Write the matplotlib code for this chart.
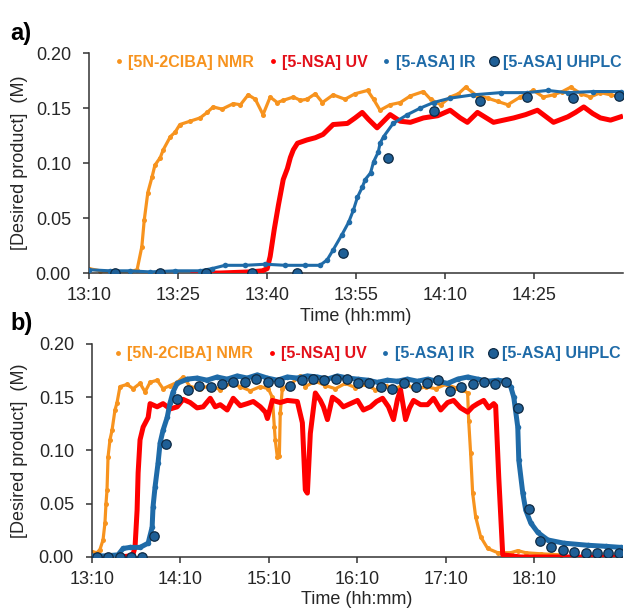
import matplotlib
matplotlib.use("Agg")
import matplotlib.pyplot as plt
from matplotlib.lines import Line2D
from matplotlib.ticker import FuncFormatter, MultipleLocator

plt.rcParams['font.family'] = ['Liberation Sans', 'DejaVu Sans']

# time is in minutes after 13:10
start_min = 13 * 60 + 10

# ---------- panel a) ----------
a_nmr_t = [0, 1.9, 4.4, 6.9, 8.1, 8.9, 9.3, 9.9, 10.6, 11.1, 12.0, 12.5, 13.7, 14.5, 15.3,
           17.0, 18.7, 19.9, 20.9, 22.4, 24.3, 25.5, 26.8, 28.0, 29.3, 30.5, 31.7, 32.7,
           34.4, 35.6, 36.7, 38.1, 39.3, 41.1, 43.1, 44.8, 46.9, 47.9, 49.0, 50.7, 52.4,
           54.1, 56.3, 57.5, 59.2, 60.8, 62.2, 63.4, 65.1, 67.1, 68.8, 70.5, 72.6, 74.8,
           76.5, 78.2, 79.7, 81.1, 82.8, 84.4, 86.1, 87.8, 89.8]
a_nmr_v = [0.004, 0.002, 0.001, 0.001, 0.003, 0.024, 0.048, 0.073, 0.087, 0.098, 0.105,
           0.112, 0.124, 0.128, 0.135, 0.138, 0.141, 0.146, 0.151, 0.149, 0.154, 0.153,
           0.162, 0.158, 0.144, 0.160, 0.155, 0.157, 0.160, 0.157, 0.158, 0.163, 0.155,
           0.162, 0.158, 0.163, 0.166, 0.158, 0.148, 0.153, 0.155, 0.161, 0.165, 0.158,
           0.153, 0.160, 0.163, 0.169, 0.162, 0.159, 0.156, 0.153, 0.160, 0.166, 0.160,
           0.162, 0.165, 0.169, 0.163, 0.160, 0.164, 0.162, 0.160]

a_uv_t = [17.5, 22.1, 27.1, 29.2, 30.0, 30.5, 31.2, 31.9, 32.7, 33.4, 33.9, 34.4, 35.1,
          36.7, 38.1, 39.4, 41.1, 43.5, 44.8, 46.0, 47.0, 48.5, 50.7, 52.4, 54.1, 56.3,
          58.7, 60.8, 62.5, 63.7, 65.4, 68.1, 69.8, 71.5, 73.5, 75.5, 78.2, 80.6, 81.9,
          83.3, 84.8, 86.1, 87.8, 89.5]
a_uv_v = [0.000, 0.000, 0.001, 0.002, 0.004, 0.015, 0.040, 0.062, 0.085, 0.095, 0.105,
          0.112, 0.118, 0.121, 0.123, 0.126, 0.135, 0.136, 0.141, 0.146, 0.140, 0.132,
          0.144, 0.138, 0.137, 0.141, 0.143, 0.148, 0.141, 0.137, 0.146, 0.137, 0.139,
          0.141, 0.144, 0.148, 0.137, 0.142, 0.146, 0.151, 0.145, 0.141, 0.139, 0.142]

a_ir_t = [0, 3.5, 6.9, 10.3, 14.5, 18.7, 20.7, 22.9, 26.3, 29.7, 33.0, 36.4, 38.9, 40.1,
          41.1, 42.6, 43.7, 44.5, 45.2, 46.0, 46.5, 47.4, 47.9, 48.7, 49.0, 49.6, 51.2,
          53.6, 55.8, 58.0, 60.8, 64.7, 69.3, 73.8, 77.2, 80.6, 84.9, 89.5]
a_ir_v = [0.003, 0.002, 0.002, 0.001, 0.002, 0.002, 0.004, 0.007, 0.007, 0.008, 0.007,
          0.007, 0.007, 0.012, 0.021, 0.035, 0.046, 0.057, 0.069, 0.078, 0.085, 0.091,
          0.101, 0.110, 0.118, 0.124, 0.136, 0.144, 0.150, 0.155, 0.159, 0.162, 0.164,
          0.164, 0.166, 0.164, 0.165, 0.165]

a_hplc_t = [4.4, 12.0, 19.7, 27.5, 35.1, 42.8, 50.4, 58.1, 65.9, 73.7, 81.4, 89.2]
a_hplc_v = [0.0, 0.0, 0.0, 0.0, 0.0, 0.018, 0.105, 0.147, 0.156, 0.160, 0.159, 0.161]

# ---------- panel b) ----------
b_nmr_t = [0, 3.4, 5.4, 7.5, 8.8, 9.5, 10.2, 10.9, 12.2, 13.6, 15.6, 17.0, 19.0, 23.8,
           27.9, 32.6, 36.0, 39.4, 44.2, 48.2, 53.0, 57.8, 61.8, 66.6, 73.4, 80.2, 87.0,
           93.8, 100.6, 107.4, 114.2, 119.6, 122.3, 123.7, 124.3, 125.7, 127.1, 127.7,
           129.1, 134.5, 141.3, 144.7, 151.5, 158.3, 165.1, 171.9, 178.7, 185.5, 192.3,
           199.1, 205.9, 212.7, 219.5, 226.3, 233.1, 239.9, 246.7, 251.4, 254.8, 255.5,
           256.8, 258.2, 260.2, 263.6, 268.4, 275.2, 284.0, 288.8, 294.2, 304.4, 318.0]
b_nmr_v = [0.005, 0.004, 0.007, 0.016, 0.032, 0.050, 0.063, 0.094, 0.110, 0.119, 0.138,
           0.145, 0.160, 0.162, 0.158, 0.163, 0.155, 0.164, 0.166, 0.158, 0.161, 0.164,
           0.169, 0.160, 0.158, 0.161, 0.157, 0.163, 0.160, 0.156, 0.160, 0.158, 0.150,
           0.122, 0.110, 0.094, 0.095, 0.135, 0.158, 0.162, 0.170, 0.160, 0.165, 0.161,
           0.158, 0.163, 0.159, 0.162, 0.157, 0.161, 0.158, 0.163, 0.157, 0.160, 0.158,
           0.162, 0.159, 0.157, 0.154, 0.128, 0.098, 0.060, 0.038, 0.019, 0.008, 0.004,
           0.004, 0.006, 0.004, 0.003, 0.002]

b_uv_t = [10.9, 19.0, 25.8, 27.9, 29.2, 30.6, 31.3, 32.6, 34.7, 38.1, 39.4, 44.2, 48.2,
          53.0, 57.8, 61.8, 66.6, 71.3, 75.4, 80.2, 83.6, 87.0, 91.7, 95.8, 100.6, 105.3,
          109.4, 114.2, 117.6, 119.0, 122.3, 127.7, 132.5, 139.3, 142.7, 144.7, 146.1,
          148.1, 151.5, 154.9, 157.0, 159.7, 163.1, 167.2, 170.5, 175.3, 180.1, 184.1,
          188.9, 193.0, 197.1, 201.1, 204.5, 207.2, 209.3, 212.7, 215.4, 218.1, 222.9,
          227.6, 231.7, 236.5, 241.2, 245.3, 250.0, 254.8, 258.2, 261.6, 265.7, 269.1,
          272.5, 273.8, 275.9, 278.6, 290.8, 318.0, 360.0]
b_uv_v = [0.000, 0.000, 0.001, 0.003, 0.009, 0.044, 0.079, 0.110, 0.122, 0.131, 0.144,
          0.141, 0.144, 0.139, 0.141, 0.148, 0.145, 0.140, 0.141, 0.149, 0.141, 0.143,
          0.138, 0.149, 0.142, 0.144, 0.146, 0.141, 0.136, 0.130, 0.147, 0.145, 0.147,
          0.146, 0.126, 0.063, 0.060, 0.116, 0.154, 0.147, 0.141, 0.129, 0.150, 0.146,
          0.141, 0.144, 0.147, 0.138, 0.141, 0.146, 0.149, 0.141, 0.129, 0.148, 0.157,
          0.129, 0.140, 0.147, 0.143, 0.143, 0.149, 0.138, 0.145, 0.147, 0.140, 0.136,
          0.141, 0.144, 0.147, 0.140, 0.144, 0.142, 0.075, 0.002, 0.000, 0.000, 0.000]

b_ir_t = [0, 8.8, 17.7, 21.1, 25.8, 32.6, 38.1, 40.8, 41.4, 42.8, 44.8, 46.2, 48.2, 51.0,
          53.0, 55.0, 57.8, 64.6, 71.3, 78.1, 84.9, 91.7, 98.5, 105.3, 112.1, 118.9,
          125.7, 132.5, 139.3, 146.1, 152.9, 159.7, 166.5, 173.3, 180.1, 186.9, 193.7,
          200.4, 207.2, 214.0, 220.8, 227.6, 234.4, 241.2, 248.0, 254.8, 261.6, 268.4,
          275.2, 280.6, 284.0, 286.1, 288.8, 289.5, 292.2, 294.2, 297.6, 302.4, 309.2,
          320.0, 336.3, 348.6, 358.8]
b_ir_v = [0.001, 0.001, 0.002, 0.008, 0.009, 0.009, 0.013, 0.028, 0.047, 0.066, 0.088,
          0.107, 0.119, 0.131, 0.145, 0.155, 0.163, 0.167, 0.168, 0.166, 0.169, 0.167,
          0.170, 0.168, 0.171, 0.168, 0.166, 0.169, 0.168, 0.170, 0.169, 0.167, 0.170,
          0.168, 0.167, 0.166, 0.164, 0.166, 0.165, 0.167, 0.165, 0.167, 0.165, 0.163,
          0.167, 0.169, 0.167, 0.165, 0.166, 0.165, 0.160, 0.150, 0.122, 0.091, 0.060,
          0.044, 0.032, 0.023, 0.016, 0.013, 0.011, 0.010, 0.009]

b_hplc_t = [3.4, 10.9, 19.0, 26.5, 34.0, 42.1, 50.3, 57.8, 65.2, 72.7, 80.9, 88.3, 95.8,
            103.9, 111.4, 119.6, 127.1, 134.5, 142.7, 150.2, 157.6, 165.8, 173.3, 180.7,
            188.2, 195.7, 203.8, 211.3, 219.5, 226.9, 234.4, 242.6, 250.0, 258.2, 265.7,
            273.2, 280.6, 288.8, 296.3, 303.7, 311.2, 319.4, 326.8, 335.0, 342.5, 349.9,
            357.4]
b_hplc_v = [0.0, 0.0, 0.0, 0.0, 0.0, 0.020, 0.106, 0.148, 0.157, 0.161, 0.160, 0.162,
            0.164, 0.164, 0.167, 0.164, 0.164, 0.161, 0.166, 0.167, 0.166, 0.167, 0.167,
            0.163, 0.163, 0.160, 0.158, 0.163, 0.160, 0.163, 0.166, 0.156, 0.160, 0.162,
            0.164, 0.162, 0.164, 0.140, 0.045, 0.015, 0.009, 0.007, 0.005, 0.004, 0.004,
            0.004, 0.004]

labels = ['[5N-2ClBA] NMR', '[5-NSA] UV', '[5-ASA] IR', '[5-ASA] UHPLC']
c_nmr = '#F7931E'
c_uv = '#FF0000'
c_ir = '#1F6BA8'
c_hplc = '#1F5F96'
c_txt_uv = '#E3101A'
c_txt = '#262626'


def hhmm(x, pos):
    t = int(round(start_min + x))
    return '%d:%02d' % (t // 60, t % 60)


def draw(ax, nmr_t, nmr_v, uv_t, uv_v, ir_t, ir_v, hp_t, hp_v, xmax, step, lw_ir):
    ax.plot(nmr_t, nmr_v, color=c_nmr, lw=2.3, marker='o', ms=3.6, mew=0, zorder=2)
    ax.plot(uv_t, uv_v, color=c_uv, lw=3.6, zorder=3, solid_joinstyle='round')
    ax.plot(ir_t, ir_v, color=c_ir, lw=lw_ir, marker='o', ms=4, mew=0, zorder=4)
    ax.plot(hp_t, hp_v, ls='none', marker='o', ms=6.8, mfc=c_hplc, mec='#0E2A44',
            mew=0.9, zorder=5)
    ax.set_xlim(0, xmax)
    ax.set_ylim(0, 0.2)
    ax.xaxis.set_major_locator(MultipleLocator(step))
    ax.xaxis.set_major_formatter(FuncFormatter(hhmm))
    ax.yaxis.set_major_locator(MultipleLocator(0.05))
    ax.yaxis.set_major_formatter(FuncFormatter(lambda v, p: '%.2f' % v))
    for s in ['top', 'right']:
        ax.spines[s].set_visible(False)
    for s in ['left', 'bottom']:
        ax.spines[s].set_color('#333333')
        ax.spines[s].set_linewidth(1.1)
    ax.tick_params(axis='x', direction='out', length=4, width=1.1, color='#333333',
                   labelsize=13, labelcolor=c_txt, pad=6)
    ax.tick_params(axis='y', direction='out', length=4, width=1.1, color='#333333',
                   labelsize=13, labelcolor=c_txt, pad=9)
    ax.set_xlabel('Time (hh:mm)', fontsize=13, color=c_txt)
    ax.set_ylabel('[Desired product]  (M)', fontsize=13, color=c_txt)

    handles = [
        Line2D([], [], ls='none', marker='o', ms=3.5, mew=0, color=c_nmr),
        Line2D([], [], ls='none', marker='o', ms=3.5, mew=0, color=c_uv),
        Line2D([], [], ls='none', marker='o', ms=3.5, mew=0, color=c_ir),
        Line2D([], [], ls='none', marker='o', ms=7, mfc=c_hplc, mec='#0E2A44', mew=0.9),
    ]
    leg = ax.legend(handles, labels, loc='upper right', bbox_to_anchor=(1.01, 1.02),
                    ncol=4, frameon=False, handlelength=0.5, handletextpad=0.35,
                    columnspacing=0.9, borderaxespad=0,
                    prop={'weight': 'bold', 'size': 11.5})
    for t, c in zip(leg.get_texts(), [c_nmr, c_txt_uv, c_ir, c_ir]):
        t.set_color(c)


fig = plt.figure(figsize=(6.24, 6.16), dpi=100)
ax1 = fig.add_axes([0.1426, 0.5568, 0.8558, 0.3571])
ax2 = fig.add_axes([0.1474, 0.0958, 0.8494, 0.3458])

draw(ax1, a_nmr_t, a_nmr_v, a_uv_t, a_uv_v, a_ir_t, a_ir_v, a_hplc_t, a_hplc_v,
     89.9, 15, 2.2)
draw(ax2, b_nmr_t, b_nmr_v, b_uv_t, b_uv_v, b_ir_t, b_ir_v, b_hplc_t, b_hplc_v,
     359.5, 60, 3.6)

ax1.xaxis.set_label_coords(0.5, -0.16)
ax2.xaxis.set_label_coords(0.5, -0.16)
ax1.yaxis.set_label_coords(-0.114, 0.5)
ax2.yaxis.set_label_coords(-0.121, 0.5)

fig.text(0.016, 0.935, 'a)', fontsize=17, fontweight='bold', color='black')
fig.text(0.016, 0.465, 'b)', fontsize=17, fontweight='bold', color='black')

fig.savefig('out.png', dpi=100)
